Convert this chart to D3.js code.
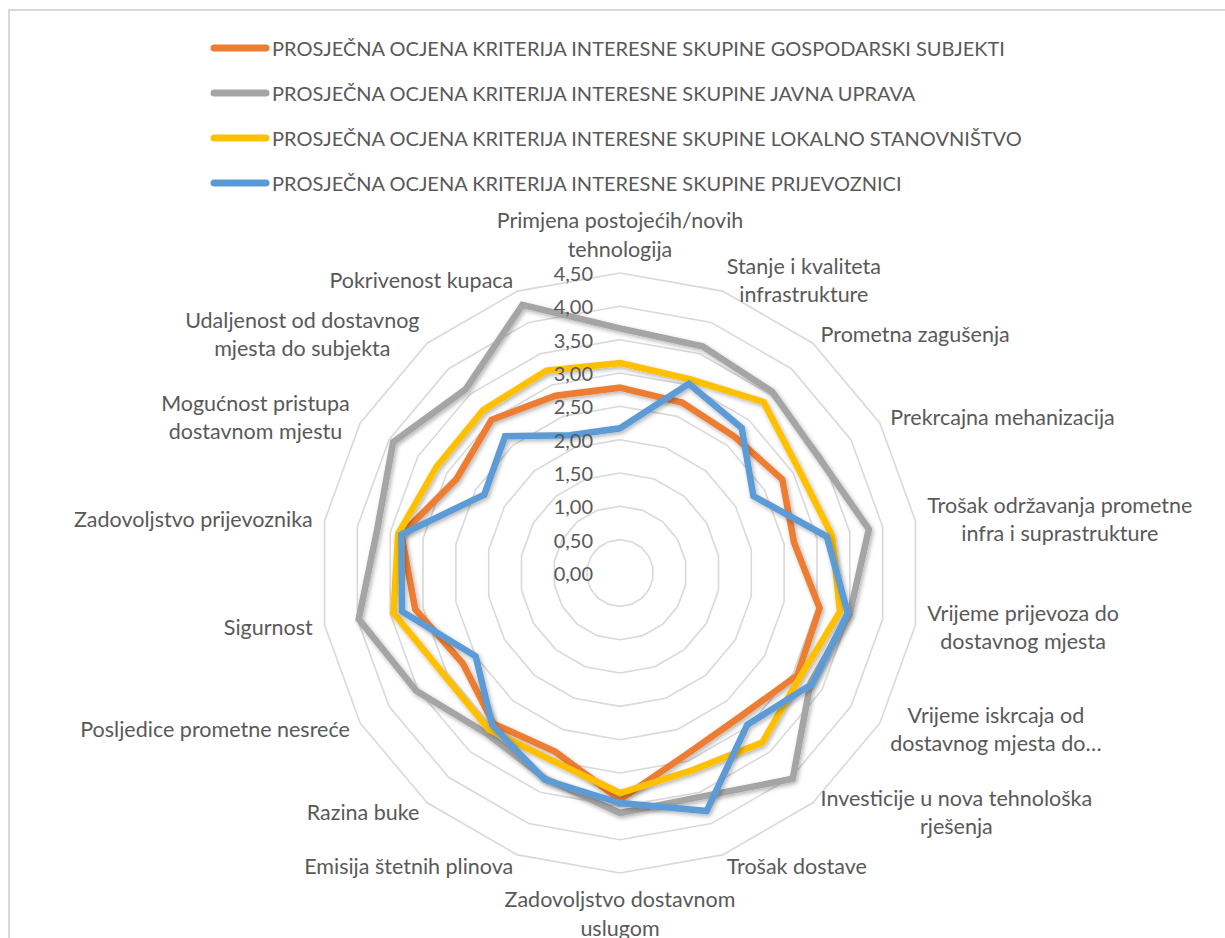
<!DOCTYPE html>
<html>
<head>
<meta charset="utf-8">
<script src="https://cdn.jsdelivr.net/npm/d3@7"></script>
<style>
  body { margin: 0; background: #fff; }
  svg { display: block; }
  text { font-family: Lato, "Open Sans", sans-serif; fill: #595959; }
</style>
</head>
<body>
<svg id="chart" width="1225" height="938"></svg>
<script>
// ---------- DATA ----------
const categories = [
  "Primjena postojećih/novih\ntehnologija",
  "Stanje i kvaliteta\ninfrastrukture",
  "Prometna zagušenja",
  "Prekrcajna mehanizacija",
  "Trošak održavanja prometne\ninfra i suprastrukture",
  "Vrijeme prijevoza do\ndostavnog mjesta",
  "Vrijeme iskrcaja od\ndostavnog mjesta do…",
  "Investicije u nova tehnološka\nrješenja",
  "Trošak dostave",
  "Zadovoljstvo dostavnom\nuslugom",
  "Emisija štetnih plinova",
  "Razina buke",
  "Posljedice prometne nesreće",
  "Sigurnost",
  "Zadovoljstvo prijevoznika",
  "Mogućnost pristupa\ndostavnom mjestu",
  "Udaljenost od dostavnog\nmjesta do subjekta",
  "Pokrivenost kupaca"
];

const seriesNames = [
  "PROSJEČNA OCJENA KRITERIJA INTERESNE SKUPINE GOSPODARSKI SUBJEKTI",
  "PROSJEČNA OCJENA KRITERIJA INTERESNE SKUPINE JAVNA UPRAVA",
  "PROSJEČNA OCJENA KRITERIJA INTERESNE SKUPINE LOKALNO STANOVNIŠTVO",
  "PROSJEČNA OCJENA KRITERIJA INTERESNE SKUPINE PRIJEVOZNICI"
];

const gospodarskiSubjekti = [2.78, 2.72, 2.67, 2.81, 2.65, 3.04, 3.07, 2.81, 2.90, 3.40, 2.85, 2.95, 2.72, 3.12, 3.33, 2.83, 3.00, 2.83];
const javnaUprava         = [3.67, 3.62, 3.55, 3.45, 3.79, 3.50, 3.30, 4.03, 3.57, 3.60, 3.28, 3.13, 3.53, 3.98, 3.70, 3.93, 3.60, 4.28];
const lokalnoStanovnistvo = [3.15, 3.09, 3.35, 3.10, 3.23, 3.35, 3.12, 3.32, 3.15, 3.30, 2.99, 3.06, 3.05, 3.45, 3.38, 3.18, 3.19, 3.23];
const prijevoznici        = [2.17, 3.02, 2.84, 2.31, 3.15, 3.47, 3.33, 2.97, 3.80, 3.45, 3.30, 2.98, 2.50, 3.32, 3.33, 2.35, 2.68, 2.20];

const seriesColors = ["#ED7D31", "#A5A5A5", "#FFC000", "#5B9BD5"];
const tickValues = [0, 0.5, 1, 1.5, 2, 2.5, 3, 3.5, 4, 4.5];

// ---------- LAYOUT ----------
const cx = 620, cy = 573, R = 300;
const svg = d3.select("#chart");

const defs = svg.append("defs");
const f = defs.append("filter").attr("id", "shadow")
  .attr("x", "-10%").attr("y", "-10%").attr("width", "125%").attr("height", "125%");
f.append("feDropShadow").attr("dx", 1.5).attr("dy", 2).attr("stdDeviation", 2)
  .attr("flood-color", "#000").attr("flood-opacity", 0.3);

svg.append("rect")
  .attr("x", 9).attr("y", 10).attr("width", 1240).attr("height", 960)
  .attr("fill", "#fff").attr("stroke", "#D9D9D9").attr("stroke-width", 2);

const n = categories.length;
const angle = d3.scaleLinear().domain([0, n]).range([0, 2 * Math.PI]);
const r = d3.scaleLinear().domain([0, 4.5]).range([0, R]);

const g = svg.append("g").attr("transform", `translate(${cx},${cy})`);

const radial = d3.lineRadial()
  .angle((d, i) => angle(i))
  .radius(d => r(d))
  .curve(d3.curveLinearClosed);

// grid rings
g.append("g").selectAll("path")
  .data(tickValues.filter(t => t > 0))
  .join("path")
  .attr("d", t => radial(categories.map(() => t)))
  .attr("fill", "none")
  .attr("stroke", "#D9D9D9")
  .attr("stroke-width", 1.6);

// series
const seriesData = [gospodarskiSubjekti, javnaUprava, lokalnoStanovnistvo, prijevoznici];
g.append("g").selectAll("path")
  .data(seriesData)
  .join("path")
  .attr("d", d => radial(d))
  .attr("fill", "none")
  .attr("stroke", (d, i) => seriesColors[i])
  .attr("stroke-width", 6.5)
  .attr("stroke-linejoin", "miter")
  .attr("filter", "url(#shadow)");

// tick labels
const fmt = d3.formatLocale({decimal: ",", thousands: ".", grouping: [3], currency: ["", " €"]}).format(".2f");
g.append("g").selectAll("text")
  .data(tickValues)
  .join("text")
  .attr("x", -27)
  .attr("y", t => -r(t))
  .attr("text-anchor", "end")
  .attr("dominant-baseline", "central")
  .attr("font-size", 20)
  .text(t => fmt(t));

// category labels
const lineH = 28.5;
const gap = 12;
categories.forEach((label, i) => {
  const a = angle(i);
  const ax = (R + gap) * Math.sin(a);
  const ay = -(R + gap) * Math.cos(a);
  const lines = label.split("\n");
  const t = g.append("text").attr("font-size", 21.5).attr("text-anchor", "middle");
  const tspans = lines.map(l => t.append("tspan").text(l));
  const w = d3.max(tspans, s => s.node().getComputedTextLength());
  const h = lines.length * lineH;
  let boxX, boxTop;
  if (i === 0) { boxX = ax; boxTop = ay - h + 2; }
  else if (i === n / 2) { boxX = ax; boxTop = ay; }
  else if (i < n / 2) { boxX = ax + w / 2; boxTop = ay - h / 2; }
  else { boxX = ax - w / 2; boxTop = ay - h / 2; }
  tspans.forEach((s, k) => {
    s.attr("x", boxX).attr("y", boxTop + (k + 0.5) * lineH).attr("dominant-baseline", "central");
  });
});

// legend
const legend = svg.append("g");
seriesNames.forEach((name, k) => {
  const y = 48 + k * 45;
  legend.append("line")
    .attr("x1", 214).attr("x2", 266).attr("y1", y).attr("y2", y)
    .attr("stroke", seriesColors[k]).attr("stroke-width", 7).attr("stroke-linecap", "round");
  legend.append("text")
    .attr("x", 272).attr("y", y)
    .attr("dominant-baseline", "central")
    .attr("font-size", 20)
    .text(name);
});
</script>
</body>
</html>
